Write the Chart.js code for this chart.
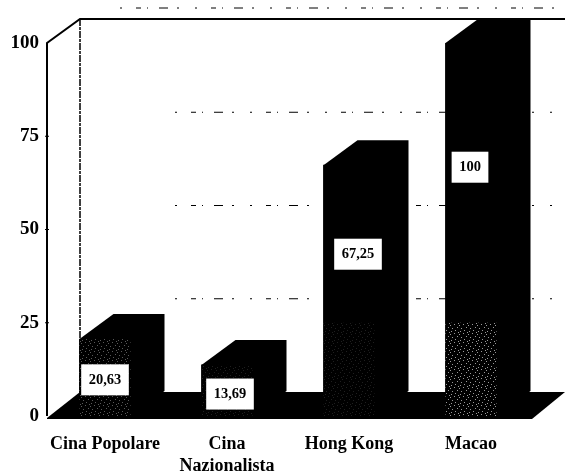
<!DOCTYPE html>
<html>
<head>
<meta charset="utf-8">
<style>
  html, body { margin: 0; padding: 0; background: #fff; }
  #wrap { position: relative; width: 565px; height: 475px; }
</style>
<script src="https://cdn.jsdelivr.net/npm/chart.js@4"></script>
</head>
<body>
<div id="wrap"><canvas id="chart"></canvas></div>
<script>
const categories = [['Cina Popolare'], ['Cina', 'Nazionalista'], ['Hong Kong'], ['Macao']];
const values = [20.63, 13.69, 67.25, 100];
const valueLabels = ['20,63', '13,69', '67,25', '100'];
const yTicks = [0, 25, 50, 75, 100];

// where each white label sits: share of bar height, sideways nudge
const labelHeights = [0.47, 0.43, 0.645, 0.667];
const labelShifts = [0, 3, 9, -1];
// how strong the scanned speckle is at the foot of each bar
const speckle = [0.35, 0.12, 0.12, 0.6];

const serif = '"Liberation Serif", serif';
const wallDx = 33, wallDy = -24;
const barDx = 34, barDy = -25;
const gridDash = [2, 14, 5, 6, 1, 11, 9, 9, 2, 16];

function poly(ctx, pts) {
    ctx.beginPath();
    pts.forEach((p, i) => i ? ctx.lineTo(p[0], p[1]) : ctx.moveTo(p[0], p[1]));
    ctx.closePath();
    ctx.fill();
}

function speckleTile() {
    const c = document.createElement('canvas');
    c.width = c.height = 9;
    const t = c.getContext('2d');
    t.fillStyle = '#fff';
    [[0, 1], [4, 0], [7, 3], [2, 4], [5, 6], [1, 7], [8, 8]].forEach(p => t.fillRect(p[0], p[1], 1, 1));
    return c;
}

const box3d = {
    id: 'box3d',
    beforeDatasetsDraw(chart) {
        const ctx = chart.ctx, y = chart.scales.y, area = chart.chartArea;
        const x0 = area.left + 3, x1 = area.right;
        const bottom = y.getPixelForValue(0), top = y.getPixelForValue(100);
        ctx.save();

        // axis, back wall and top edge
        ctx.strokeStyle = '#000';
        ctx.lineWidth = 2;
        ctx.beginPath();
        ctx.moveTo(x0, bottom);
        ctx.lineTo(x0, top);
        ctx.lineTo(x0 + wallDx, top + wallDy);
        ctx.lineTo(565, top + wallDy);
        ctx.stroke();
        ctx.lineWidth = 1.5;
        ctx.setLineDash([7, 1, 3, 1]);
        ctx.beginPath();
        ctx.moveTo(x0 + wallDx, top + wallDy);
        ctx.lineTo(x0 + wallDx, bottom + wallDy);
        ctx.stroke();

        // broken grid lines on the back wall, small ticks on the axis
        ctx.lineWidth = 1;
        yTicks.slice(1, 4).forEach(v => {
            const py = y.getPixelForValue(v) + wallDy;
            ctx.setLineDash(gridDash);
            ctx.beginPath();
            ctx.moveTo(175, py);
            ctx.lineTo(565, py);
            ctx.stroke();
            ctx.setLineDash([]);
            ctx.beginPath();
            ctx.moveTo(x0 - 2, py - wallDy);
            ctx.lineTo(x0 + 2, py - wallDy);
            ctx.stroke();
        });
        ctx.setLineDash(gridDash);
        ctx.beginPath();
        ctx.moveTo(120, top + wallDy - 11);
        ctx.lineTo(565, top + wallDy - 11);
        ctx.stroke();
        ctx.setLineDash([]);

        // floor
        ctx.fillStyle = '#000';
        poly(ctx, [[x0, bottom + 2], [x0 + wallDx, bottom + wallDy], [565, bottom + wallDy], [x1, bottom + 3], [x0, bottom + 3]]);

        // top and side faces of the bars
        chart.getDatasetMeta(0).data.forEach(bar => {
            const l = bar.x - bar.width / 2, r = bar.x + bar.width / 2;
            poly(ctx, [[l, bar.y], [l + barDx, bar.y + barDy], [r + barDx, bar.y + barDy],
                [r + barDx, bottom + barDy], [r, bottom], [l, bottom]]);
        });
        ctx.restore();
    },
    afterDatasetsDraw(chart) {
        const ctx = chart.ctx, y = chart.scales.y;
        const bottom = y.getPixelForValue(0);
        const pattern = ctx.createPattern(speckleTile(), 'repeat');
        ctx.save();

        // scan speckle low on the front faces
        chart.getDatasetMeta(0).data.forEach((bar, i) => {
            const h = Math.min(bottom - bar.y, bottom - y.getPixelForValue(25));
            ctx.globalAlpha = speckle[i];
            ctx.fillStyle = pattern;
            ctx.fillRect(bar.x - bar.width / 2, bottom - h, bar.width, h);
        });
        ctx.globalAlpha = 1;

        // white value labels
        ctx.font = 'bold 14.5px ' + serif;
        ctx.textAlign = 'center';
        ctx.textBaseline = 'middle';
        chart.getDatasetMeta(0).data.forEach((bar, i) => {
            const cx = bar.x + labelShifts[i];
            const cy = bottom - (bottom - bar.y) * labelHeights[i];
            const w = ctx.measureText(valueLabels[i]).width + 15;
            ctx.fillStyle = '#fff';
            ctx.fillRect(cx - w / 2, cy - 15.5, w, 31);
            ctx.fillStyle = '#000';
            ctx.fillText(valueLabels[i], cx, cy);
        });
        ctx.restore();
    }
};

new Chart(document.getElementById('chart'), {
    type: 'bar',
    data: {
        labels: categories,
        datasets: [{
            data: values,
            backgroundColor: '#000',
            borderWidth: 0,
            barThickness: 51
        }]
    },
    options: {
        responsive: true,
        maintainAspectRatio: false,
        animation: false,
        layout: { padding: { top: 43, right: 33 } },
        plugins: { legend: { display: false }, tooltip: { enabled: false } },
        scales: {
            x: {
                grid: { display: false, drawTicks: false },
                border: { display: false },
                afterFit(scale) { scale.height = 59; },
                ticks: {
                    color: '#000',
                    padding: 18,
                    maxRotation: 0,
                    autoSkip: false,
                    font: { family: serif, size: 18, weight: 'bold', lineHeight: 1.2 }
                }
            },
            y: {
                min: 0,
                max: 100,
                grid: { display: false, drawTicks: false },
                border: { display: false },
                afterFit(scale) { scale.width = 44; },
                afterBuildTicks(scale) { scale.ticks = yTicks.map(v => ({ value: v })); },
                ticks: {
                    color: '#000',
                    padding: 5,
                    font: { family: serif, size: 19, weight: 'bold' }
                }
            }
        }
    },
    plugins: [box3d]
});
</script>
</body>
</html>
